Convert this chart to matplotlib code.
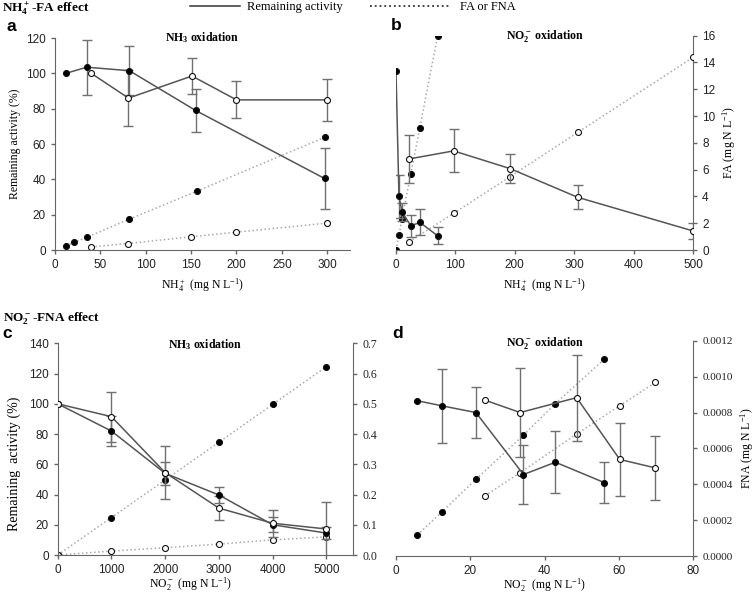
import numpy as np
import matplotlib
matplotlib.use("Agg")
import matplotlib.pyplot as plt
from matplotlib.lines import Line2D

plt.rcParams['font.family'] = 'Liberation Sans'
plt.rcParams['font.size'] = 8.5
plt.rcParams['mathtext.default'] = 'regular'

# ---- data ----
# a: NH4+ effect on NH3 oxidation (activity %, FA mg N/L)
a_fill_x = [12, 35, 82, 155, 297]
a_fill_act = [100, 103.5, 101.5, 79, 40.5]
a_fill_err = [0, 15.5, 14, 12, 17]
a_open_x = [40, 81, 151, 200, 300]
a_open_act = [100, 86, 98.5, 85, 85]
a_open_err = [0, 16, 10, 10.5, 12]
a_fill_fa_x = [12, 21, 35, 82, 156, 297]
a_fill_fa = [0.31, 0.57, 0.96, 2.33, 4.43, 8.5]
a_open_fa_x = [40, 80, 150, 200, 300]
a_open_fa = [0.23, 0.49, 1.0, 1.35, 2.03]

# b: NH4+ effect on NO2- oxidation
b_fill_x = [0, 5, 10, 25, 40, 70]
b_fill_act = [100, 30, 21.5, 13.5, 15.5, 8]
b_fill_err = [0, 12, 5, 6.3, 7.3, 4.7]
b_fill_fa = [0, 1.1, 2.3, 5.7, 9.1, 16]
b_open_x = [22, 97, 192, 306, 500]
b_open_act = [51, 55.5, 45.6, 29.5, 10.7]
b_open_err = [13.5, 12, 8, 6.8, 4.5]
b_open_fa = [0.62, 2.74, 5.47, 8.78, 14.38]

# c: NO2- effect on NH3 oxidation (FNA mg N/L)
c_x = [0, 1000, 2000, 3000, 4000, 5000]
c_fill_act = [100, 82, 54, 39.7, 20, 14.5]
c_fill_err = [0, 10, 7.5, 5, 5, 4]
c_open_act = [100, 91.5, 54.5, 31, 21, 17.2]
c_open_err = [0, 16.5, 17.5, 8, 9, 18]
c_fill_fna = [0, 0.124, 0.248, 0.373, 0.498, 0.623]
c_open_fna = [0, 0.013, 0.024, 0.036, 0.05, 0.06]

# d: NO2- effect on NO2- oxidation
d_fill_x = [5.7, 12.3, 21.5, 34.3, 42.9, 56]
d_fill_act = [101, 97.7, 93.3, 53, 61, 47.8]
d_fill_err = [0, 24, 16.7, 19, 20, 13.6]
d_fill_fna = [0.000117, 0.000245, 0.000427, 0.000674, 0.00085, 0.001096]
d_open_x = [23.9, 33.4, 48.6, 60.2, 69.8]
d_open_act = [101.4, 93.3, 103, 62.8, 57.3]
d_open_err = [0, 29, 28, 24, 21]
d_open_fna = [0.000336, 0.000464, 0.00068, 0.000838, 0.000968]

SERIF = 'Liberation Serif'
AXC = '#666666'


def series(ax, x, y, err=None, filled=True, dotted=False):
    x = np.asarray(x, float)
    y = np.asarray(y, float)
    if err is not None:
        err = np.asarray(err, float)
        m = err > 0
        ax.errorbar(x[m], y[m], yerr=err[m], fmt='none', ecolor='#707070',
                    elinewidth=1.0, capsize=3.5, capthick=1.0, zorder=2)
    if dotted:
        ax.plot(x, y, ':', color='#aaaaaa', lw=1.1, zorder=1)
    else:
        ax.plot(x, y, '-', color='#555555', lw=1.1, zorder=3)
    ax.plot(x, y, 'o', ms=4.3, mfc='black' if filled else 'white',
            mec='#111111', mew=0.8, zorder=4)


def style(ax, left=True):
    for s in ['top', 'right', 'left', 'bottom']:
        ax.spines[s].set_visible(False)
    ax.spines['bottom'].set_visible(True)
    ax.spines['bottom'].set_color(AXC)
    ax.tick_params(colors=AXC, labelcolor='#222222', length=3, width=1)
    if left:
        ax.spines['left'].set_visible(True)
        ax.spines['left'].set_color(AXC)
    else:
        ax.tick_params(axis='y', left=False, labelleft=False)
    ax.patch.set_visible(False)


def rstyle(ax2, show=True):
    for s in ['top', 'left', 'bottom', 'right']:
        ax2.spines[s].set_visible(False)
    if show:
        ax2.spines['right'].set_visible(True)
        ax2.spines['right'].set_color(AXC)
        ax2.tick_params(axis='y', colors=AXC, labelcolor='#222222', length=3, width=1)
    else:
        ax2.tick_params(axis='y', right=False, labelright=False)


fig = plt.figure(figsize=(7.55, 5.98), dpi=100)

# ---------------- panel a ----------------
ax_a = fig.add_axes([0.0728, 0.5819, 0.3907, 0.3545])
ax_a2 = ax_a.twinx()
style(ax_a)
rstyle(ax_a2, show=False)
series(ax_a2, a_fill_fa_x, a_fill_fa, filled=True, dotted=True)
series(ax_a2, a_open_fa_x, a_open_fa, filled=False, dotted=True)
series(ax_a, a_fill_x, a_fill_act, a_fill_err, filled=True)
series(ax_a, a_open_x, a_open_act, a_open_err, filled=False)
ax_a.set_zorder(ax_a2.get_zorder() + 1)
ax_a.set_xlim(0, 325)
ax_a.set_ylim(0, 120)
ax_a2.set_ylim(0, 16)
ax_a.set_xticks(np.arange(0, 301, 50))
ax_a.set_yticks(np.arange(0, 121, 20))
ax_a.set_xlabel(r'NH$_4^+$ (mg N L$^{-1}$)', family=SERIF, fontsize=8.5)
ax_a.set_ylabel('Remaining activity (%)', family=SERIF, fontsize=8.5)
ax_a.text(0.5, 1.0, r'NH$_3$ oxidation', transform=ax_a.transAxes, ha='center',
          va='center', family=SERIF, fontweight='bold', fontsize=8.5)

# ---------------- panel b ----------------
ax_b = fig.add_axes([0.5245, 0.5819, 0.3934, 0.3584])
ax_b2 = ax_b.twinx()
style(ax_b, left=False)
rstyle(ax_b2, show=True)
series(ax_b2, b_fill_x, b_fill_fa, filled=True, dotted=True)
series(ax_b2, b_open_x, b_open_fa, filled=False, dotted=True)
series(ax_b, b_fill_x, b_fill_act, b_fill_err, filled=True)
series(ax_b, b_open_x, b_open_act, b_open_err, filled=False)
ax_b.set_zorder(ax_b2.get_zorder() + 1)
ax_b.set_xlim(0, 500)
ax_b.set_ylim(0, 120)
ax_b2.set_ylim(0, 16)
ax_b.set_xticks(np.arange(0, 501, 100))
ax_b2.set_yticks(np.arange(0, 17, 2))
ax_b.set_xlabel(r'NH$_4^+$ (mg N L$^{-1}$)', family=SERIF, fontsize=8.5)
ax_b2.set_ylabel(r'FA (mg N L$^{-1}$)', family=SERIF, fontsize=8.5, rotation=90)
ax_b.text(0.5, 1.0, r'NO$_2^-$ oxidation', transform=ax_b.transAxes, ha='center',
          va='center', family=SERIF, fontweight='bold', fontsize=8.5)

# ---------------- panel c ----------------
ax_c = fig.add_axes([0.0764, 0.0719, 0.3915, 0.354])
ax_c2 = ax_c.twinx()
style(ax_c)
rstyle(ax_c2, show=True)
series(ax_c2, c_x, c_fill_fna, filled=True, dotted=True)
series(ax_c2, c_x, c_open_fna, filled=False, dotted=True)
series(ax_c, c_x, c_fill_act, c_fill_err, filled=True)
series(ax_c, c_x, c_open_act, c_open_err, filled=False)
ax_c.set_zorder(ax_c2.get_zorder() + 1)
ax_c.set_xlim(0, 5500)
ax_c.set_ylim(0, 140)
ax_c2.set_ylim(0, 0.7)
ax_c.set_xticks(np.arange(0, 5001, 1000))
ax_c.set_yticks(np.arange(0, 141, 20))
c_ticks = np.arange(0, 0.71, 0.1)
ax_c2.set_yticks(c_ticks)
ax_c2.set_yticklabels(['%.1f' % v for v in c_ticks], family=SERIF, fontsize=8.5)
ax_c.set_xlabel(r'NO$_2^-$ (mg N L$^{-1}$)', family=SERIF, fontsize=8.5)
ax_c.xaxis.set_label_coords(0.45, -0.095)
ax_c.set_ylabel('Remaining  activity (%)', family=SERIF, fontsize=10)
ax_c.yaxis.set_label_coords(-0.125, 0.43)
ax_c.text(0.5, 0.995, r'NH$_3$ oxidation', transform=ax_c.transAxes, ha='center',
          va='center', family=SERIF, fontweight='bold', fontsize=8.5)

# ---------------- panel d ----------------
ax_d = fig.add_axes([0.5245, 0.0702, 0.3938, 0.360])
ax_d2 = ax_d.twinx()
style(ax_d, left=False)
rstyle(ax_d2, show=True)
series(ax_d2, d_fill_x, d_fill_fna, filled=True, dotted=True)
series(ax_d2, d_open_x, d_open_fna, filled=False, dotted=True)
series(ax_d, d_fill_x, d_fill_act, d_fill_err, filled=True)
series(ax_d, d_open_x, d_open_act, d_open_err, filled=False)
ax_d.set_zorder(ax_d2.get_zorder() + 1)
ax_d.set_xlim(0, 80)
ax_d.set_ylim(0, 140)
ax_d2.set_ylim(0, 0.0012)
ax_d.set_xticks(np.arange(0, 81, 20))
d_ticks = np.arange(0, 0.00121, 0.0002)
ax_d2.set_yticks(d_ticks)
ax_d2.set_yticklabels(['%.4f' % v for v in d_ticks], family=SERIF, fontsize=8)
ax_d.set_xlabel(r'NO$_2^-$ (mg N L$^{-1}$)', family=SERIF, fontsize=8.5)
ax_d.xaxis.set_label_coords(0.5, -0.093)
ax_d2.set_ylabel(r'FNA (mg N L$^{-1}$)', family=SERIF, fontsize=8.5, rotation=90)
ax_d.text(0.5, 0.99, r'NO$_2^-$ oxidation', transform=ax_d.transAxes, ha='center',
          va='center', family=SERIF, fontweight='bold', fontsize=8.5)

# ---------------- headers, panel letters, legend ----------------
fig.text(0.003, 1 - 12 / 598, r'NH$_4^+$-FA effect', family=SERIF, fontweight='bold',
         fontsize=9.5, va='baseline', ha='left')
fig.text(0.004, 1 - 321 / 598, r'NO$_2^-$-FNA effect', family=SERIF, fontweight='bold',
         fontsize=9.5, va='baseline', ha='left')
for lab, xx, yy in [('a', 0.0155, 0.956), ('b', 0.525, 0.958),
                    ('c', 0.009, 0.443), ('d', 0.527, 0.443)]:
    fig.text(xx, yy, lab, fontweight='bold', fontsize=12.5, ha='center', va='center')

fig.legend([Line2D([], [], color='#333333', lw=1.1, ls='-')], ['Remaining activity'],
           loc='center left', bbox_to_anchor=(190 / 755, 0.988), frameon=False,
           handlelength=4.0, handletextpad=0.55, borderpad=0, borderaxespad=0,
           prop={'family': SERIF, 'size': 9})
fig.legend([Line2D([], [], color='#333333', lw=1.3, ls=':')], ['FA or FNA'],
           loc='center left', bbox_to_anchor=(370 / 755, 0.988), frameon=False,
           handlelength=6.4, handletextpad=0.8, borderpad=0, borderaxespad=0,
           prop={'family': SERIF, 'size': 9})

fig.savefig('out.png', dpi=100)
